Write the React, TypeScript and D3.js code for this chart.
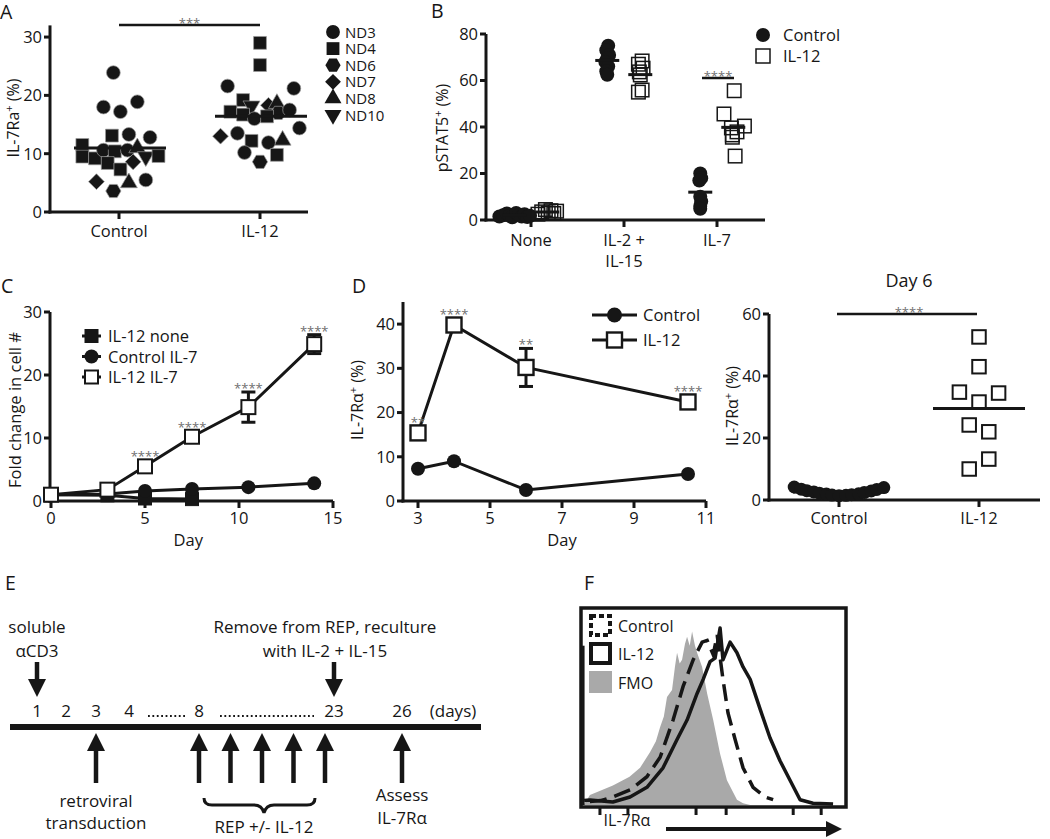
import React from "react";
import * as d3 from "d3";

const FONT = "'Open Sans', 'Noto Sans', 'DejaVu Sans', sans-serif";
const INK = "#161616";
const STAR = "#707070";
const GREY = "#a9a9a9";

// ---------------- Panel A data ----------------
const aGroups = ["Control", "IL-12"];
const aDonors = ["ND3", "ND4", "ND6", "ND7", "ND8", "ND10"];
const aYTicks = [0, 10, 20, 30];
const aControlDonor = ["ND3", "ND3", "ND3", "ND3", "ND4", "ND3", "ND3", "ND4", "ND4", "ND4", "ND3", "ND4", "ND3", "ND8", "ND10", "ND4", "ND4", "ND7", "ND4", "ND7", "ND8", "ND3", "ND6"];
const aControlValue = [23.9, 18, 17.2, 18.9, 13.1, 13.3, 12.8, 11.5, 9.5, 9.2, 10.6, 10.4, 10.6, 11, 9.5, 9.6, 8.4, 8.6, 7.3, 5.2, 5, 5.5, 3.6];
const aControlJitter = [-0.04, -0.11, 0.01, 0.13, -0.05, 0.07, 0.22, -0.26, -0.26, -0.17, -0.11, -0.03, 0.06, 0.13, 0.19, 0.28, -0.08, 0.1, 0.01, -0.16, 0.07, 0.19, -0.04];
const aIL12Donor = ["ND4", "ND4", "ND3", "ND3", "ND4", "ND10", "ND7", "ND8", "ND4", "ND6", "ND3", "ND4", "ND3", "ND4", "ND3", "ND7", "ND3", "ND4", "ND8", "ND3", "ND3", "ND4", "ND6"];
const aIL12Value = [29, 25.2, 21.6, 21.2, 19.2, 18.2, 18.3, 18.6, 17.2, 17.0, 17.5, 16.7, 16.0, 16.4, 14.4, 13.0, 13.5, 12.2, 12.3, 11.9, 10.2, 9.8, 8.6];
const aIL12Jitter = [0, 0, -0.23, 0.24, -0.12, -0.06, 0.06, 0.12, -0.21, 0.13, 0.21, -0.12, -0.04, 0.05, 0.28, -0.28, -0.16, -0.06, 0.16, 0.06, -0.11, 0.12, 0];
const aStars = "***";

// ---------------- Panel B data ----------------
const bGroups = [["None"], ["IL-2 +", "IL-15"], ["IL-7"]];
const bSeries = ["Control", "IL-12"];
const bYTicks = [0, 20, 40, 60, 80];
const bNoneControl = [1.5, 2.0, 2.8, 1.8, 1.2, 3.0, 2.2, 1.5, 2.5, 1.3, 1.8];
const bNoneControlJitter = [-0.16, -0.12, -0.08, -0.05, -0.02, 0.02, 0.05, 0.08, 0.11, 0.14, 0.17];
const bNoneIL12 = [2.5, 3.5, 4.5, 3.0, 4.0, 2.8, 3.8];
const bNoneIL12Jitter = [-0.1, -0.06, -0.02, 0.01, 0.04, 0.07, 0.1];
const bIL2Control = [75, 73, 71, 69.5, 68, 66, 64, 62.5];
const bIL2ControlJitter = [0.01, -0.01, 0.02, 0, -0.02, 0.01, -0.01, 0];
const bIL2IL12 = [68.4, 67, 65.3, 63.7, 62.4, 55.9, 55];
const bIL2IL12Jitter = [0.02, -0.02, 0.03, -0.01, 0, 0.02, -0.02];
const bIL7Control = [20, 18, 17, 10, 8, 6, 4.8];
const bIL7ControlJitter = [0, 0.01, -0.01, 0, 0.01, 0, 0];
const bIL7IL12 = [55.6, 45.6, 40.4, 39.6, 37.9, 36.6, 35.6, 27.5];
const bIL7IL12Jitter = [0.01, -0.1, 0.12, -0.02, 0.04, -0.01, -0.01, 0.02];
const bStars = "****";

// ---------------- Panel C data ----------------
const cSeries = ["IL-12 none", "Control IL-7", "IL-12 IL-7"];
const cXTicks = [0, 5, 10, 15];
const cYTicks = [0, 10, 20, 30];
const cDays = [0, 3, 5, 7.5, 10.5, 14];
const cIL12IL7 = [1, 1.8, 5.5, 10.2, 14.9, 24.9];
const cIL12IL7Err = [0.2, 0.3, 0.5, 0.6, 2.4, 1.5];
const cControlIL7 = [1, 1.1, 1.6, 1.9, 2.2, 2.8];
const cIL12NoneDays = [0, 3, 5, 7.5];
const cIL12None = [1, 0.9, 0.4, 0.3];
const cStars = ["", "", "****", "****", "****", "****"];

// ---------------- Panel D data ----------------
const dSeries = ["Control", "IL-12"];
const dXTicks = [3, 5, 7, 9, 11];
const dYTicks = [0, 10, 20, 30, 40];
const dDays = [3, 4, 6, 10.5];
const dIL12 = [15.4, 39.8, 30.2, 22.4];
const dIL12Err = [1.4, 0.8, 4.3, 1.3];
const dControl = [7.3, 9, 2.5, 6.1];
const dStars = ["**", "****", "**", "****"];

// ---------------- Panel D (Day 6) data ----------------
const eGroups = ["Control", "IL-12"];
const eYTicks = [0, 20, 40, 60];
const eControl = [4.2, 3.5, 3.0, 2.6, 2.2, 1.9, 1.6, 1.4, 1.5, 1.7, 2.0, 2.4, 2.9, 3.4, 4.0];
const eControlJitter = [-0.32, -0.27, -0.23, -0.18, -0.14, -0.09, -0.05, 0, 0.05, 0.09, 0.14, 0.18, 0.23, 0.27, 0.32];
const eIL12 = [52.6, 43, 34.8, 34.5, 31.6, 24.2, 22, 13.2, 10];
const eIL12Jitter = [0, 0, -0.14, 0.14, 0, -0.07, 0.07, 0.07, -0.07];
const eStars = "****";

// ---------------- Panel E data ----------------
const tlLabels = ["1", "2", "3", "4", "8", "23", "26"];
const tlKnotDays = [1, 2, 3, 4, 8, 23, 26];
const tlDownDays = [1, 23];
const tlRepDays = [8, 11.5, 15, 18.5, 22];
const tlTransductionDay = 3;
const tlAssessDay = 26;

// ---------------- Panel F data ----------------
const fSeries = ["Control", "IL-12", "FMO"];
const fFMO: [number, number][] = [[0, 0.5], [11, 1], [30, 5.6], [117, 11], [180, 16], [220, 21], [258, 30], [280, 36], [296, 44], [310, 50], [322, 61], [341, 65], [352, 78], [360, 86], [370, 80], [379, 82], [390, 91], [398, 95], [408, 90], [417, 98], [428, 90], [436, 86], [455, 78], [474, 63], [497, 48], [523, 29], [549, 14], [587, 3], [610, 1], [637, 0]];
const fIL12: [number, number][] = [[8, 2.5], [30, 2.8], [117, 1.7], [182, 4.5], [246, 10], [307, 21], [360, 37], [398, 48], [436, 63], [459, 71], [485, 81], [504, 83], [523, 100], [534, 82], [561, 92], [587, 86], [610, 78], [637, 71], [675, 54], [712, 38], [750, 25], [788, 14], [826, 3], [875, 1], [951, 0.5]];
const fControl: [number, number][] = [[30, 2], [70, 2.5], [117, 4.5], [182, 8.5], [246, 16], [296, 27], [345, 48], [383, 67], [421, 82], [455, 92], [474, 93], [497, 85], [512, 96], [534, 71], [553, 52], [580, 37], [610, 21], [648, 10], [694, 4.5], [724, 3]];
const fSpike: [number, number][] = [[5, 0], [5, 90]];
const fTicks = [68, 174, 432, 546, 800, 906];

// ---------------- helpers ----------------
const symHex: any = {
  draw(ctx: any, size: number) {
    const r = Math.sqrt((2 * size) / (3 * Math.sqrt(3)));
    for (let i = 0; i < 6; i++) {
      const a = (Math.PI / 3) * i;
      const px = r * Math.cos(a), py = r * Math.sin(a);
      if (i === 0) ctx.moveTo(px, py); else ctx.lineTo(px, py);
    }
    ctx.closePath();
  },
};
const symDiamond: any = {
  draw(ctx: any, size: number) {
    const r = Math.sqrt(size / 2);
    ctx.moveTo(0, -r); ctx.lineTo(r, 0); ctx.lineTo(0, r); ctx.lineTo(-r, 0); ctx.closePath();
  },
};
const symTriUp: any = {
  draw(ctx: any, size: number) {
    const s = Math.sqrt((size * 4) / Math.sqrt(3));
    const h = (s * Math.sqrt(3)) / 2;
    ctx.moveTo(0, (-2 * h) / 3); ctx.lineTo(s / 2, h / 3); ctx.lineTo(-s / 2, h / 3); ctx.closePath();
  },
};
const symTriDown: any = {
  draw(ctx: any, size: number) {
    const s = Math.sqrt((size * 4) / Math.sqrt(3));
    const h = (s * Math.sqrt(3)) / 2;
    ctx.moveTo(0, (2 * h) / 3); ctx.lineTo(s / 2, -h / 3); ctx.lineTo(-s / 2, -h / 3); ctx.closePath();
  },
};
const aSymbols = [d3.symbolCircle, d3.symbolSquare, symHex, symDiamond, symTriUp, symTriDown];
const aSizes = [150, 165, 150, 125, 125, 125];

const AX = { stroke: INK, strokeWidth: 3, fill: "none" } as const;

function Sup({ base, sup, rest }: { base: string; sup: string; rest: string }) {
  return (
    <>
      {base}
      <tspan dy={-6} fontSize={11}>{sup}</tspan>
      <tspan dy={6}>{rest}</tspan>
    </>
  );
}

function Sq({ x, y, s, fill, sw }: { x: number; y: number; s: number; fill: string; sw: number }) {
  return <rect x={x - s / 2} y={y - s / 2} width={s} height={s} fill={fill} stroke={INK} strokeWidth={sw} />;
}

// ---------------- Panel A ----------------
function PanelA() {
  const x = d3.scaleLinear().domain([0, 1]).range([119, 260]);
  const y = d3.scaleLinear().domain([0, 32]).range([212, 25.4]);
  const shape = d3.scaleOrdinal<string, any>().domain(aDonors).range(aSymbols);
  const size = d3.scaleOrdinal<string, number>().domain(aDonors).range(aSizes);
  const sym = (d: string) => d3.symbol().type(shape(d)).size(size(d))() as string;
  const groups = [
    { donors: aControlDonor, values: aControlValue, jitter: aControlJitter },
    { donors: aIL12Donor, values: aIL12Value, jitter: aIL12Jitter },
  ];
  const legendY = d3.scalePoint().domain(aDonors).range([32, 115]);
  return (
    <g>
      <text x={0} y={19} fontSize={19.5}>A</text>
      <line x1={50} x2={50} y1={y(0) + 1.5} y2={y(32)} {...AX} />
      <line x1={48.5} x2={308} y1={y(0)} y2={y(0)} {...AX} />
      {aYTicks.map((t) => (
        <g key={t}>
          <line x1={44} x2={50} y1={y(t)} y2={y(t)} {...AX} />
          <text x={42} y={y(t)} dy="0.36em" textAnchor="end" fontSize={16.5}>{t}</text>
        </g>
      ))}
      {aGroups.map((g, i) => (
        <g key={g}>
          <line x1={x(i)} x2={x(i)} y1={y(0)} y2={y(0) + 7} {...AX} />
          <text x={x(i)} y={237} textAnchor="middle" fontSize={16.5}>{g}</text>
        </g>
      ))}
      <text transform={`translate(19,118) rotate(-90)`} textAnchor="middle" fontSize={16}>
        <Sup base="IL-7Ra" sup="+" rest=" (%)" />
      </text>
      {groups.map((g, gi) => (
        <g key={gi}>
          {g.values.map((v, i) => (
            <path key={i} d={sym(g.donors[i])} transform={`translate(${x(gi + g.jitter[i])},${y(v)})`} fill={INK} stroke="#9a9a9a" strokeWidth={0.7} />
          ))}
          <line x1={x(gi) - 45} x2={x(gi) + 47} y1={y(d3.mean(g.values) as number)} y2={y(d3.mean(g.values) as number)} {...AX} />
        </g>
      ))}
      <line x1={x(0)} x2={x(1)} y1={25} y2={25} stroke={INK} strokeWidth={2.5} />
      <text x={(x(0) + x(1)) / 2} y={28} textAnchor="middle" fontSize={13} fill={STAR}>{aStars}</text>
      {aDonors.map((d) => (
        <g key={d}>
          <path d={sym(d)} transform={`translate(333,${legendY(d)})`} fill={INK} />
          <text x={345} y={(legendY(d) as number) + 5.5} fontSize={15}>{d}</text>
        </g>
      ))}
    </g>
  );
}

// ---------------- Panel B ----------------
function PanelB() {
  const x = d3.scaleLinear().domain([0, 2]).range([531, 717]);
  const y = d3.scaleLinear().domain([0, 80]).range([220, 34]);
  const off = d3.scaleOrdinal<string, number>().domain(bSeries).range([-0.18, 0.175]);
  const ctrl = [
    { v: bNoneControl, j: bNoneControlJitter },
    { v: bIL2Control, j: bIL2ControlJitter },
    { v: bIL7Control, j: bIL7ControlJitter },
  ];
  const il12 = [
    { v: bNoneIL12, j: bNoneIL12Jitter },
    { v: bIL2IL12, j: bIL2IL12Jitter },
    { v: bIL7IL12, j: bIL7IL12Jitter },
  ];
  return (
    <g>
      <text x={431} y={18} fontSize={19.5}>B</text>
      <line x1={486} x2={486} y1={y(0) + 1.5} y2={y(80)} {...AX} />
      <line x1={484.5} x2={765} y1={y(0)} y2={y(0)} {...AX} />
      {bYTicks.map((t) => (
        <g key={t}>
          <line x1={480} x2={486} y1={y(t)} y2={y(t)} {...AX} />
          <text x={478} y={y(t)} dy="0.36em" textAnchor="end" fontSize={16.5}>{t}</text>
        </g>
      ))}
      {bGroups.map((g, i) => (
        <g key={i}>
          <line x1={x(i)} x2={x(i)} y1={y(0)} y2={y(0) + 7} {...AX} />
          {g.map((line, k) => (
            <text key={k} x={x(i)} y={246 + k * 21} textAnchor="middle" fontSize={16.5}>{line}</text>
          ))}
        </g>
      ))}
      <text transform={`translate(448,128) rotate(-90)`} textAnchor="middle" fontSize={16}>
        <Sup base="pSTAT5" sup="+" rest=" (%)" />
      </text>
      {ctrl.map((s, gi) => {
        const cx = gi + off("Control");
        const m = d3.mean(s.v) as number;
        return (
          <g key={"c" + gi}>
            {s.v.map((v, i) => (
              <circle key={i} cx={x(cx + s.j[i])} cy={y(v)} r={7} fill={INK} />
            ))}
            <line x1={x(cx) - 12} x2={x(cx) + 12} y1={y(m)} y2={y(m)} stroke={INK} strokeWidth={3} />
          </g>
        );
      })}
      {il12.map((s, gi) => {
        const cx = gi + off("IL-12");
        const m = d3.mean(s.v) as number;
        return (
          <g key={"s" + gi}>
            {s.v.map((v, i) => (
              <Sq key={i} x={x(cx + s.j[i])} y={y(v)} s={13.5} fill="none" sw={1.5} />
            ))}
            <line x1={x(cx) - 12} x2={x(cx) + 12} y1={y(m)} y2={y(m)} stroke={INK} strokeWidth={3} />
          </g>
        );
      })}
      <line x1={702} x2={734} y1={78} y2={78} stroke={INK} strokeWidth={2.5} />
      <text x={718} y={81} textAnchor="middle" fontSize={13} fill={STAR}>{bStars}</text>
      <circle cx={763} cy={35} r={7} fill={INK} />
      <text x={783} y={41} fontSize={16.5}>{bSeries[0]}</text>
      <Sq x={763} y={56} s={14} fill="none" sw={1.5} />
      <text x={783} y={62} fontSize={16.5}>{bSeries[1]}</text>
    </g>
  );
}

// ---------------- Panel C ----------------
function PanelC() {
  const x = d3.scaleLinear().domain([0, 15]).range([51, 333]);
  const y = d3.scaleLinear().domain([0, 30]).range([501, 312]);
  const line = d3.line<number>();
  const pts = (days: number[], vals: number[]) => line.x((_, i) => x(days[i])).y((v) => y(v))(vals) as string;
  const legY = d3.scalePoint().domain(cSeries).range([336, 377]);
  return (
    <g>
      <text x={1} y={293} fontSize={19.5}>C</text>
      <line x1={50} x2={50} y1={y(0) + 1.5} y2={y(30)} {...AX} />
      <line x1={48.5} x2={333} y1={y(0)} y2={y(0)} {...AX} />
      {cYTicks.map((t) => (
        <g key={t}>
          <line x1={44} x2={50} y1={y(t)} y2={y(t)} {...AX} />
          <text x={42} y={y(t)} dy="0.36em" textAnchor="end" fontSize={16.5}>{t}</text>
        </g>
      ))}
      {cXTicks.map((t) => (
        <g key={t}>
          <line x1={x(t)} x2={x(t)} y1={y(0)} y2={y(0) + 7} {...AX} />
          <text x={x(t)} y={524} textAnchor="middle" fontSize={16.5}>{t}</text>
        </g>
      ))}
      <text x={x(7.3)} y={546} textAnchor="middle" fontSize={16.5}>Day</text>
      <text transform={`translate(21,410) rotate(-90)`} textAnchor="middle" fontSize={16.5}>Fold change in cell #</text>
      <path d={pts(cIL12NoneDays, cIL12None)} fill="none" stroke={INK} strokeWidth={3} />
      {cIL12None.map((v, i) => (
        <Sq key={i} x={x(cIL12NoneDays[i])} y={y(v)} s={13} fill={INK} sw={1} />
      ))}
      <path d={pts(cDays, cControlIL7)} fill="none" stroke={INK} strokeWidth={3} />
      {cControlIL7.map((v, i) => (
        <circle key={i} cx={x(cDays[i])} cy={y(v)} r={7} fill={INK} />
      ))}
      <path d={pts(cDays, cIL12IL7)} fill="none" stroke={INK} strokeWidth={3} />
      {cIL12IL7.map((v, i) => {
        const cx = x(cDays[i]);
        const e = cIL12IL7Err[i];
        return (
          <g key={i}>
            <line x1={cx} x2={cx} y1={y(v - e)} y2={y(v + e)} stroke={INK} strokeWidth={3} />
            <line x1={cx - 7} x2={cx + 7} y1={y(v - e)} y2={y(v - e)} stroke={INK} strokeWidth={3} />
            <line x1={cx - 7} x2={cx + 7} y1={y(v + e)} y2={y(v + e)} stroke={INK} strokeWidth={3} />
            <Sq x={cx} y={y(v)} s={14} fill="#fff" sw={2} />
            {cStars[i] && (
              <text x={cx} y={Math.min(y(v) - 7, y(v + e) - 1) + 2} textAnchor="middle" fontSize={13} fill={STAR}>{cStars[i]}</text>
            )}
          </g>
        );
      })}
      {cSeries.map((s, i) => {
        const ly = legY(s) as number;
        return (
          <g key={s}>
            <line x1={82} x2={101} y1={ly} y2={ly} stroke={INK} strokeWidth={3} />
            {i === 0 && <Sq x={91.5} y={ly} s={13} fill={INK} sw={1} />}
            {i === 1 && <circle cx={91.5} cy={ly} r={7} fill={INK} />}
            {i === 2 && <Sq x={91.5} y={ly} s={13} fill="#fff" sw={2} />}
            <text x={108} y={ly + 6} fontSize={16.5}>{s}</text>
          </g>
        );
      })}
    </g>
  );
}

// ---------------- Panel D ----------------
function PanelD() {
  const x = d3.scaleLinear().domain([3, 11]).range([418, 706]);
  const y = d3.scaleLinear().domain([0, 45]).range([501, 302]);
  const line = d3.line<number>();
  const pts = (vals: number[]) => line.x((_, i) => x(dDays[i])).y((v) => y(v))(vals) as string;
  return (
    <g>
      <text x={352} y={293} fontSize={19.5}>D</text>
      <line x1={403} x2={403} y1={y(0) + 1.5} y2={y(45)} {...AX} />
      <line x1={401.5} x2={706} y1={y(0)} y2={y(0)} {...AX} />
      {dYTicks.map((t) => (
        <g key={t}>
          <line x1={397} x2={403} y1={y(t)} y2={y(t)} {...AX} />
          <text x={395} y={y(t)} dy="0.36em" textAnchor="end" fontSize={16.5}>{t}</text>
        </g>
      ))}
      {dXTicks.map((t) => (
        <g key={t}>
          <line x1={x(t)} x2={x(t)} y1={y(0)} y2={y(0) + 7} {...AX} />
          <text x={x(t)} y={524} textAnchor="middle" fontSize={16.5}>{t}</text>
        </g>
      ))}
      <text x={x(7)} y={546} textAnchor="middle" fontSize={16.5}>Day</text>
      <text transform={`translate(363,400) rotate(-90)`} textAnchor="middle" fontSize={16}>
        <Sup base="IL-7Rα" sup="+" rest=" (%)" />
      </text>
      <path d={pts(dControl)} fill="none" stroke={INK} strokeWidth={3} />
      {dControl.map((v, i) => (
        <circle key={i} cx={x(dDays[i])} cy={y(v)} r={7} fill={INK} />
      ))}
      <path d={pts(dIL12)} fill="none" stroke={INK} strokeWidth={3} />
      {dIL12.map((v, i) => {
        const cx = x(dDays[i]);
        const e = dIL12Err[i];
        return (
          <g key={i}>
            <line x1={cx} x2={cx} y1={y(v - e)} y2={y(v + e)} stroke={INK} strokeWidth={3} />
            <line x1={cx - 7} x2={cx + 7} y1={y(v - e)} y2={y(v - e)} stroke={INK} strokeWidth={3} />
            <line x1={cx - 7} x2={cx + 7} y1={y(v + e)} y2={y(v + e)} stroke={INK} strokeWidth={3} />
            <Sq x={cx} y={y(v)} s={15} fill="#fff" sw={2.4} />
            <text x={cx} y={Math.min(y(v) - 7.5, y(v + e) - 1) + 2} textAnchor="middle" fontSize={13} fill={STAR}>{dStars[i]}</text>
          </g>
        );
      })}
      {dSeries.map((s, i) => {
        const ly = 315 + i * 25;
        return (
          <g key={s}>
            <line x1={592} x2={637} y1={ly} y2={ly} stroke={INK} strokeWidth={3} />
            {i === 0 ? <circle cx={614.5} cy={ly} r={7.5} fill={INK} /> : <Sq x={614.5} y={ly} s={15} fill="#fff" sw={2.4} />}
            <text x={643} y={ly + 6} fontSize={16.5}>{s}</text>
          </g>
        );
      })}
    </g>
  );
}

// ---------------- Panel D (Day 6) ----------------
function PanelDay6() {
  const x = d3.scaleLinear().domain([0, 1]).range([839, 979]);
  const y = d3.scaleLinear().domain([0, 60]).range([500, 314]);
  const mC = d3.mean(eControl) as number;
  const mI = d3.mean(eIL12) as number;
  return (
    <g>
      <text x={909} y={287} textAnchor="middle" fontSize={18}>Day 6</text>
      <line x1={769} x2={769} y1={y(0) + 1.5} y2={y(60)} {...AX} />
      <line x1={767.5} x2={1040} y1={y(0)} y2={y(0)} {...AX} />
      {eYTicks.map((t) => (
        <g key={t}>
          <line x1={763} x2={769} y1={y(t)} y2={y(t)} {...AX} />
          <text x={761} y={y(t)} dy="0.36em" textAnchor="end" fontSize={16.5}>{t}</text>
        </g>
      ))}
      {eGroups.map((g, i) => (
        <g key={g}>
          <line x1={x(i)} x2={x(i)} y1={y(0)} y2={y(0) + 7} {...AX} />
          <text x={x(i)} y={524} textAnchor="middle" fontSize={16.5}>{g}</text>
        </g>
      ))}
      <text transform={`translate(738,406) rotate(-90)`} textAnchor="middle" fontSize={16}>
        <Sup base="IL-7Rα" sup="+" rest=" (%)" />
      </text>
      {eControl.map((v, i) => (
        <circle key={i} cx={x(eControlJitter[i])} cy={y(v)} r={6.5} fill={INK} />
      ))}
      <line x1={x(0) - 46} x2={x(0) + 46} y1={y(mC)} y2={y(mC)} stroke={INK} strokeWidth={3} />
      {eIL12.map((v, i) => (
        <Sq key={i} x={x(1 + eIL12Jitter[i])} y={y(v)} s={13.5} fill="#fff" sw={2} />
      ))}
      <line x1={x(1) - 46} x2={x(1) + 46} y1={y(mI)} y2={y(mI)} stroke={INK} strokeWidth={3} />
      <line x1={x(0) - 2} x2={x(1) - 2} y1={y(60)} y2={y(60)} stroke={INK} strokeWidth={2.5} />
      <text x={(x(0) + x(1)) / 2} y={y(60) + 3} textAnchor="middle" fontSize={13} fill={STAR}>{eStars}</text>
    </g>
  );
}

// ---------------- Panel E ----------------
function DownArrow({ x, y0, tip }: { x: number; y0: number; tip: number }) {
  return (
    <g>
      <line x1={x} x2={x} y1={y0} y2={tip - 14} stroke={INK} strokeWidth={4.5} />
      <path d={`M${x - 9},${tip - 18} L${x + 9},${tip - 18} L${x},${tip} Z`} fill={INK} />
    </g>
  );
}
function UpArrow({ x, tip, y1 }: { x: number; tip: number; y1: number }) {
  return (
    <g>
      <line x1={x} x2={x} y1={tip + 14} y2={y1} stroke={INK} strokeWidth={4.5} />
      <path d={`M${x - 9},${tip + 18} L${x + 9},${tip + 18} L${x},${tip} Z`} fill={INK} />
    </g>
  );
}
function PanelE() {
  const x = d3.scaleLinear().domain(tlKnotDays).range([37, 66, 96, 129, 199, 334, 402]);
  const fs = 17;
  return (
    <g>
      <text x={5} y={590} fontSize={19.5}>E</text>
      <line x1={10} x2={481} y1={727} y2={727} stroke={INK} strokeWidth={6} />
      {tlLabels.map((l, i) => (
        <text key={l} x={x(tlKnotDays[i])} y={717} textAnchor="middle" fontSize={fs}>{l}</text>
      ))}
      <text x={453} y={717} textAnchor="middle" fontSize={fs}>(days)</text>
      <line x1={x(4) + 19} x2={x(8) - 12} y1={716} y2={716} stroke={INK} strokeWidth={2} strokeDasharray="1.8,2.6" />
      <line x1={x(8) + 21} x2={x(23) - 20} y1={716} y2={716} stroke={INK} strokeWidth={2} strokeDasharray="1.8,2.6" />
      {tlDownDays.map((d) => (
        <DownArrow key={d} x={x(d)} y0={662} tip={697} />
      ))}
      <UpArrow x={x(tlTransductionDay)} tip={733} y1={783} />
      {tlRepDays.map((d) => (
        <UpArrow key={d} x={x(d)} tip={733} y1={783} />
      ))}
      <UpArrow x={x(tlAssessDay)} tip={733} y1={783} />
      <text x={x(1)} y={633} textAnchor="middle" fontSize={fs}>soluble</text>
      <text x={x(1)} y={657} textAnchor="middle" fontSize={fs}>αCD3</text>
      <text x={325} y={633} textAnchor="middle" fontSize={fs}>Remove from REP, reculture</text>
      <text x={325} y={657} textAnchor="middle" fontSize={fs}>with IL-2 + IL-15</text>
      <text x={x(tlTransductionDay)} y={807} textAnchor="middle" fontSize={fs}>retroviral</text>
      <text x={x(tlTransductionDay)} y={829} textAnchor="middle" fontSize={fs}>transduction</text>
      <path d="M204,798 Q204,805 212,805 L254,805 Q262,805 264,813 Q266,805 274,805 L307,805 Q315,805 315,798" fill="none" stroke={INK} strokeWidth={3} />
      <text x={264} y={833} textAnchor="middle" fontSize={fs}>REP +/- IL-12</text>
      <text x={x(tlAssessDay)} y={801} textAnchor="middle" fontSize={fs}>Assess</text>
      <text x={x(tlAssessDay)} y={824} textAnchor="middle" fontSize={fs}>IL-7Rα</text>
    </g>
  );
}

// ---------------- Panel F ----------------
function PanelF() {
  const x = d3.scaleLinear().domain([0, 1000]).range([582, 846]);
  const y = d3.scaleLinear().domain([0, 100]).range([805, 628]);
  const area = d3.area<[number, number]>().x((d) => x(d[0])).y0(y(0)).y1((d) => y(d[1]));
  const line = d3.line<[number, number]>().x((d) => x(d[0])).y((d) => y(d[1]));
  return (
    <g>
      <text x={584} y={590} fontSize={19.5}>F</text>
      <path d={area(fFMO) as string} fill={GREY} />
      <path d={line(fControl) as string} fill="none" stroke={INK} strokeWidth={3.5} strokeDasharray="17,8" />
      <path d={line(fIL12) as string} fill="none" stroke={INK} strokeWidth={3.5} strokeLinejoin="round" />
      <path d={line(fSpike) as string} fill="none" stroke={INK} strokeWidth={2.5} />
      <rect x={581} y={608} width={265} height={199} fill="none" stroke={INK} strokeWidth={3.5} />
      {fTicks.map((t) => (
        <line key={t} x1={x(t)} x2={x(t)} y1={807} y2={815} stroke={INK} strokeWidth={3} />
      ))}
      <text x={627} y={826} textAnchor="middle" fontSize={16}>IL-7Rα</text>
      <line x1={666} x2={828} y1={829} y2={829} stroke={INK} strokeWidth={4} />
      <path d="M826,821 L842,829 L826,837 Z" fill={INK} />
      <rect x={591} y={616} width={19} height={19} fill="none" stroke={INK} strokeWidth={4} strokeDasharray="5,3" />
      <text x={618} y={632} fontSize={16}>{fSeries[0]}</text>
      <rect x={591} y={644} width={19} height={19} fill="none" stroke={INK} strokeWidth={4} />
      <text x={618} y={660} fontSize={16}>{fSeries[1]}</text>
      <rect x={589} y={671} width={23} height={22} fill={GREY} />
      <text x={618} y={689} fontSize={16}>{fSeries[2]}</text>
    </g>
  );
}

export default function App() {
  return (
    <svg width={1050} height={839} viewBox="0 0 1050 839" style={{ position: "absolute", left: 0, top: 0, background: "#fff" }} fontFamily={FONT} fill={INK}>
      <rect width={1050} height={839} fill="#fff" />
      <PanelA />
      <PanelB />
      <PanelC />
      <PanelD />
      <PanelDay6 />
      <PanelE />
      <PanelF />
    </svg>
  );
}
